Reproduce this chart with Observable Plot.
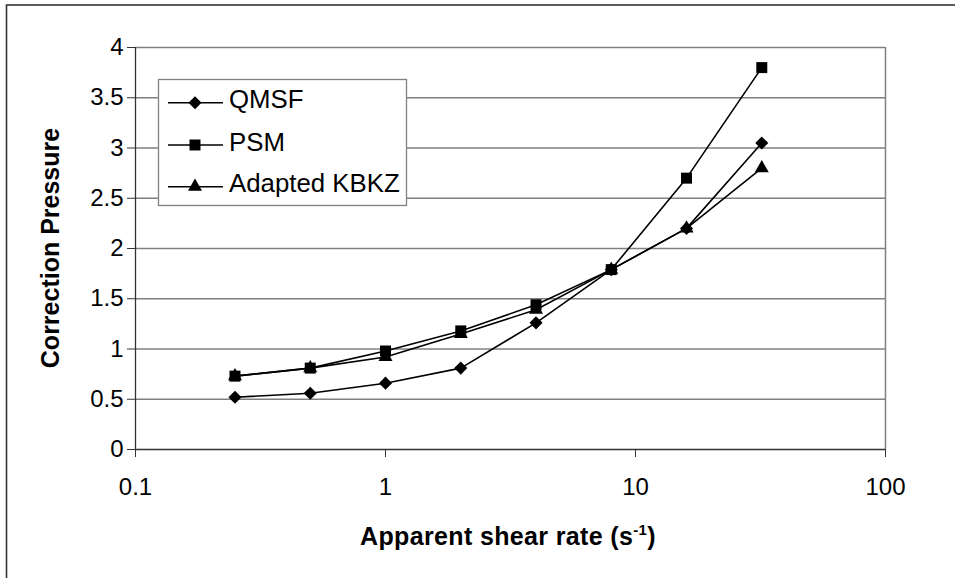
<!DOCTYPE html>
<html>
<head>
<meta charset="utf-8">
<script src="https://cdn.jsdelivr.net/npm/d3@7"></script>
<script src="https://cdn.jsdelivr.net/npm/@observablehq/plot@0.6"></script>
<style>
  html, body { margin: 0; padding: 0; background: #fff; overflow: hidden; }
  #chart svg { display: block; }
</style>
</head>
<body>
<div id="chart"></div>
<script>
const shearRates = [0.25, 0.5, 1, 2, 4, 8, 16, 32];
const seriesNames = ["QMSF", "PSM", "Adapted KBKZ"];
const qmsf = [0.52, 0.56, 0.66, 0.81, 1.26, 1.79, 2.2, 3.05];
const psm  = [0.73, 0.81, 0.98, 1.18, 1.44, 1.79, 2.7, 3.8];
const kbkz = [0.73, 0.81, 0.92, 1.15, 1.39, 1.79, 2.2, 2.8];
const xTicks = [0.1, 1, 10, 100];
const yTicks = [0, 0.5, 1, 1.5, 2, 2.5, 3, 3.5, 4];
const symbols = ["diamond2", "square", "triangle"];
const sizes = [5.9, 6.2, 5.2];

const allValues = [qmsf, psm, kbkz];
const data = [];
seriesNames.forEach((name, i) => {
  shearRates.forEach((x, j) => data.push({series: name, x, y: allValues[i][j], r: sizes[i]}));
});

const font = "'Liberation Sans', Arial, sans-serif";
const W = 955, H = 578;

const plot = Plot.plot({
  width: W,
  height: H,
  marginLeft: 135,
  marginRight: 70,
  marginTop: 47,
  marginBottom: 129,
  style: {fontFamily: font, background: "#fff", color: "#000"},
  x: {type: "log", domain: [0.1, 100], ticks: xTicks, tickFormat: d => String(d), label: null},
  y: {domain: [0, 4], ticks: yTicks, tickFormat: d => String(d), label: null},
  r: {type: "identity"},
  symbol: {domain: seriesNames, range: symbols},
  marks: [
    Plot.ruleY(yTicks.filter(d => d > 0), {stroke: "#808080", strokeWidth: 1.3}),
    Plot.ruleX([100], {stroke: "#808080", strokeWidth: 1.5}),
    Plot.ruleY([0], {stroke: "#333", strokeWidth: 1.3}),
    Plot.ruleX([0.1], {stroke: "#333", strokeWidth: 1.3}),
    Plot.axisX({ticks: xTicks, tickFormat: d => String(d), tickSize: 8, tickPadding: 20, stroke: "#333", fontSize: 24, label: null}),
    Plot.axisY({ticks: yTicks, tickFormat: d => String(d), tickSize: 8, tickPadding: 4, stroke: "#333", fontSize: 24, label: null}),
    Plot.line(data, {x: "x", y: "y", z: "series", stroke: "#000", strokeWidth: 1.6}),
    Plot.dot(data, {x: "x", y: "y", symbol: "series", r: "r", fill: "#000", stroke: "none"})
  ]
});

document.getElementById("chart").appendChild(plot);
</script>
<script>
(function(){
  const svg = d3.select("#chart svg");
  // outer border
  svg.insert("rect", ":first-child")
    .attr("x", 6.5).attr("y", 5).attr("width", 1000).attr("height", 700)
    .attr("fill", "none").attr("stroke", "#333").attr("stroke-width", 1.6);
  // axis titles
  svg.append("text")
    .attr("x", 508).attr("y", 545)
    .attr("text-anchor", "middle")
    .style("font-family", font).style("font-size", "25px").style("font-weight", "bold")
    .style("letter-spacing", "0.35px")
    .html('Apparent shear rate (s<tspan dy="-10" style="font-size:15px">-1</tspan><tspan dy="10">)</tspan>');
  svg.append("text")
    .attr("transform", "translate(59,248) rotate(-90)")
    .attr("text-anchor", "middle")
    .style("font-family", font).style("font-size", "25px").style("font-weight", "bold")
    .text("Correction Pressure");
  // legend
  const g = svg.append("g");
  g.append("rect").attr("x", 158.5).attr("y", 79.5).attr("width", 248).attr("height", 126)
    .attr("fill", "#fff").attr("stroke", "#808080").attr("stroke-width", 1.3);
  const rows = [102.7, 145, 186.7];
  const sym = [d3.symbolDiamond2, d3.symbolSquare, d3.symbolTriangle];
  seriesNames.forEach((name, i) => {
    const y = rows[i];
    g.append("line").attr("x1", 168).attr("x2", 223).attr("y1", y).attr("y2", y)
      .attr("stroke", "#000").attr("stroke-width", 1.6);
    g.append("path").attr("transform", `translate(195,${y})`)
      .attr("d", d3.symbol(sym[i], Math.PI * sizes[i] * sizes[i])()).attr("fill", "#000");
    g.append("text").attr("x", 229).attr("y", y + 5.5)
      .attr("text-anchor", "start")
      .style("font-family", font).style("font-size", "25.8px").text(name);
  });
})();
</script>
</body>
</html>
